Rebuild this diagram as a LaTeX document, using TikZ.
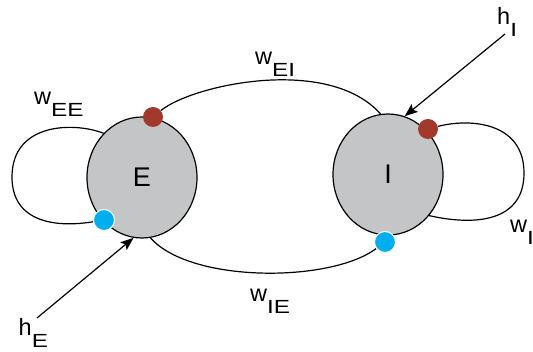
\documentclass[tikz,border=0pt]{standalone}
\usepackage{fontspec}
\setmainfont{Liberation Sans}
\usetikzlibrary{shapes.geometric,arrows.meta,backgrounds}
\definecolor{popfill}{HTML}{C4C5C7}
\definecolor{excdot}{HTML}{A13A2C}
\definecolor{inhdot}{HTML}{00AEEF}
% weight / input label: main letter with a wide, lowered subscript
\newcommand{\wlabel}[2]{\fontsize{23.5}{23.5}\selectfont #1\raisebox{-12pt}{\scalebox{1.28}[1]{\fontsize{19}{19}\selectfont #2}}}
\begin{document}
\begin{tikzpicture}[x=1pt,y=-1pt,
  pop/.style={ellipse, draw, line width=1.2pt, fill=popfill, inner sep=0pt,
    minimum width=110pt, minimum height=121pt, font=\fontsize{27}{27}\selectfont},
  excsyn/.style={circle, fill=excdot, minimum size=20pt, inner sep=0pt},
  inhsyn/.style={circle, fill=inhdot, draw=white, line width=1pt, minimum size=21pt, inner sep=0pt},
  link/.style={line width=1.2pt},
  input/.style={line width=1.2pt, -{Stealth[length=13pt,width=10pt,inset=2.5pt]}},
  lbl/.style={anchor=base west, inner sep=0pt}]
\useasboundingbox (0,0) rectangle (533,352);

% populations
\node[pop] (E) at (142,177.5) {E};
\node[pop] (I) at (388,174.5) {I};

% synapses
\node[excsyn] (eTop) at (153,117) {};
\node[inhsyn] (eBot) at (104,220) {};
\node[excsyn] (iTop) at (428,129) {};
\node[inhsyn] (iBot) at (385,242) {};

% couplings
\begin{scope}[on background layer]
  \draw[link] (eTop) .. controls (192,85) and (328,55) .. (I.97);
  \draw[link] (E.-82) .. controls (190,283) and (330,283) .. (iBot);
  \draw[link] (E.131) .. controls (75,122) and (12,122) .. (12,177)
                      .. controls (12,222) and (55,228) .. (eBot);
  \draw[link] (iTop) .. controls (470,118) and (524,122) .. (524,173)
                     .. controls (524,222) and (475,226) .. (I.-45);
\end{scope}

% external inputs
\coordinate (hEfrom) at (37,318);
\coordinate (hIfrom) at (505,34);
\draw[input] (hEfrom) -- (E.-98);
\draw[input] (hIfrom) -- (I.74);

% labels
\node[lbl] (wEE) at (34,105) {\wlabel{w}{EE}};
\node[lbl] (wEI) at (255,65) {\wlabel{w}{EI}};
\node[lbl] (wIE) at (250,302) {\wlabel{w}{IE}};
\node[lbl] (wI) at (510,233) {\wlabel{w}{I}};
\node[lbl] (hI) at (497,25) {\wlabel{h}{I}};
\node[lbl] (hE) at (18.5,336) {\wlabel{h}{E}};
\end{tikzpicture}
\end{document}
